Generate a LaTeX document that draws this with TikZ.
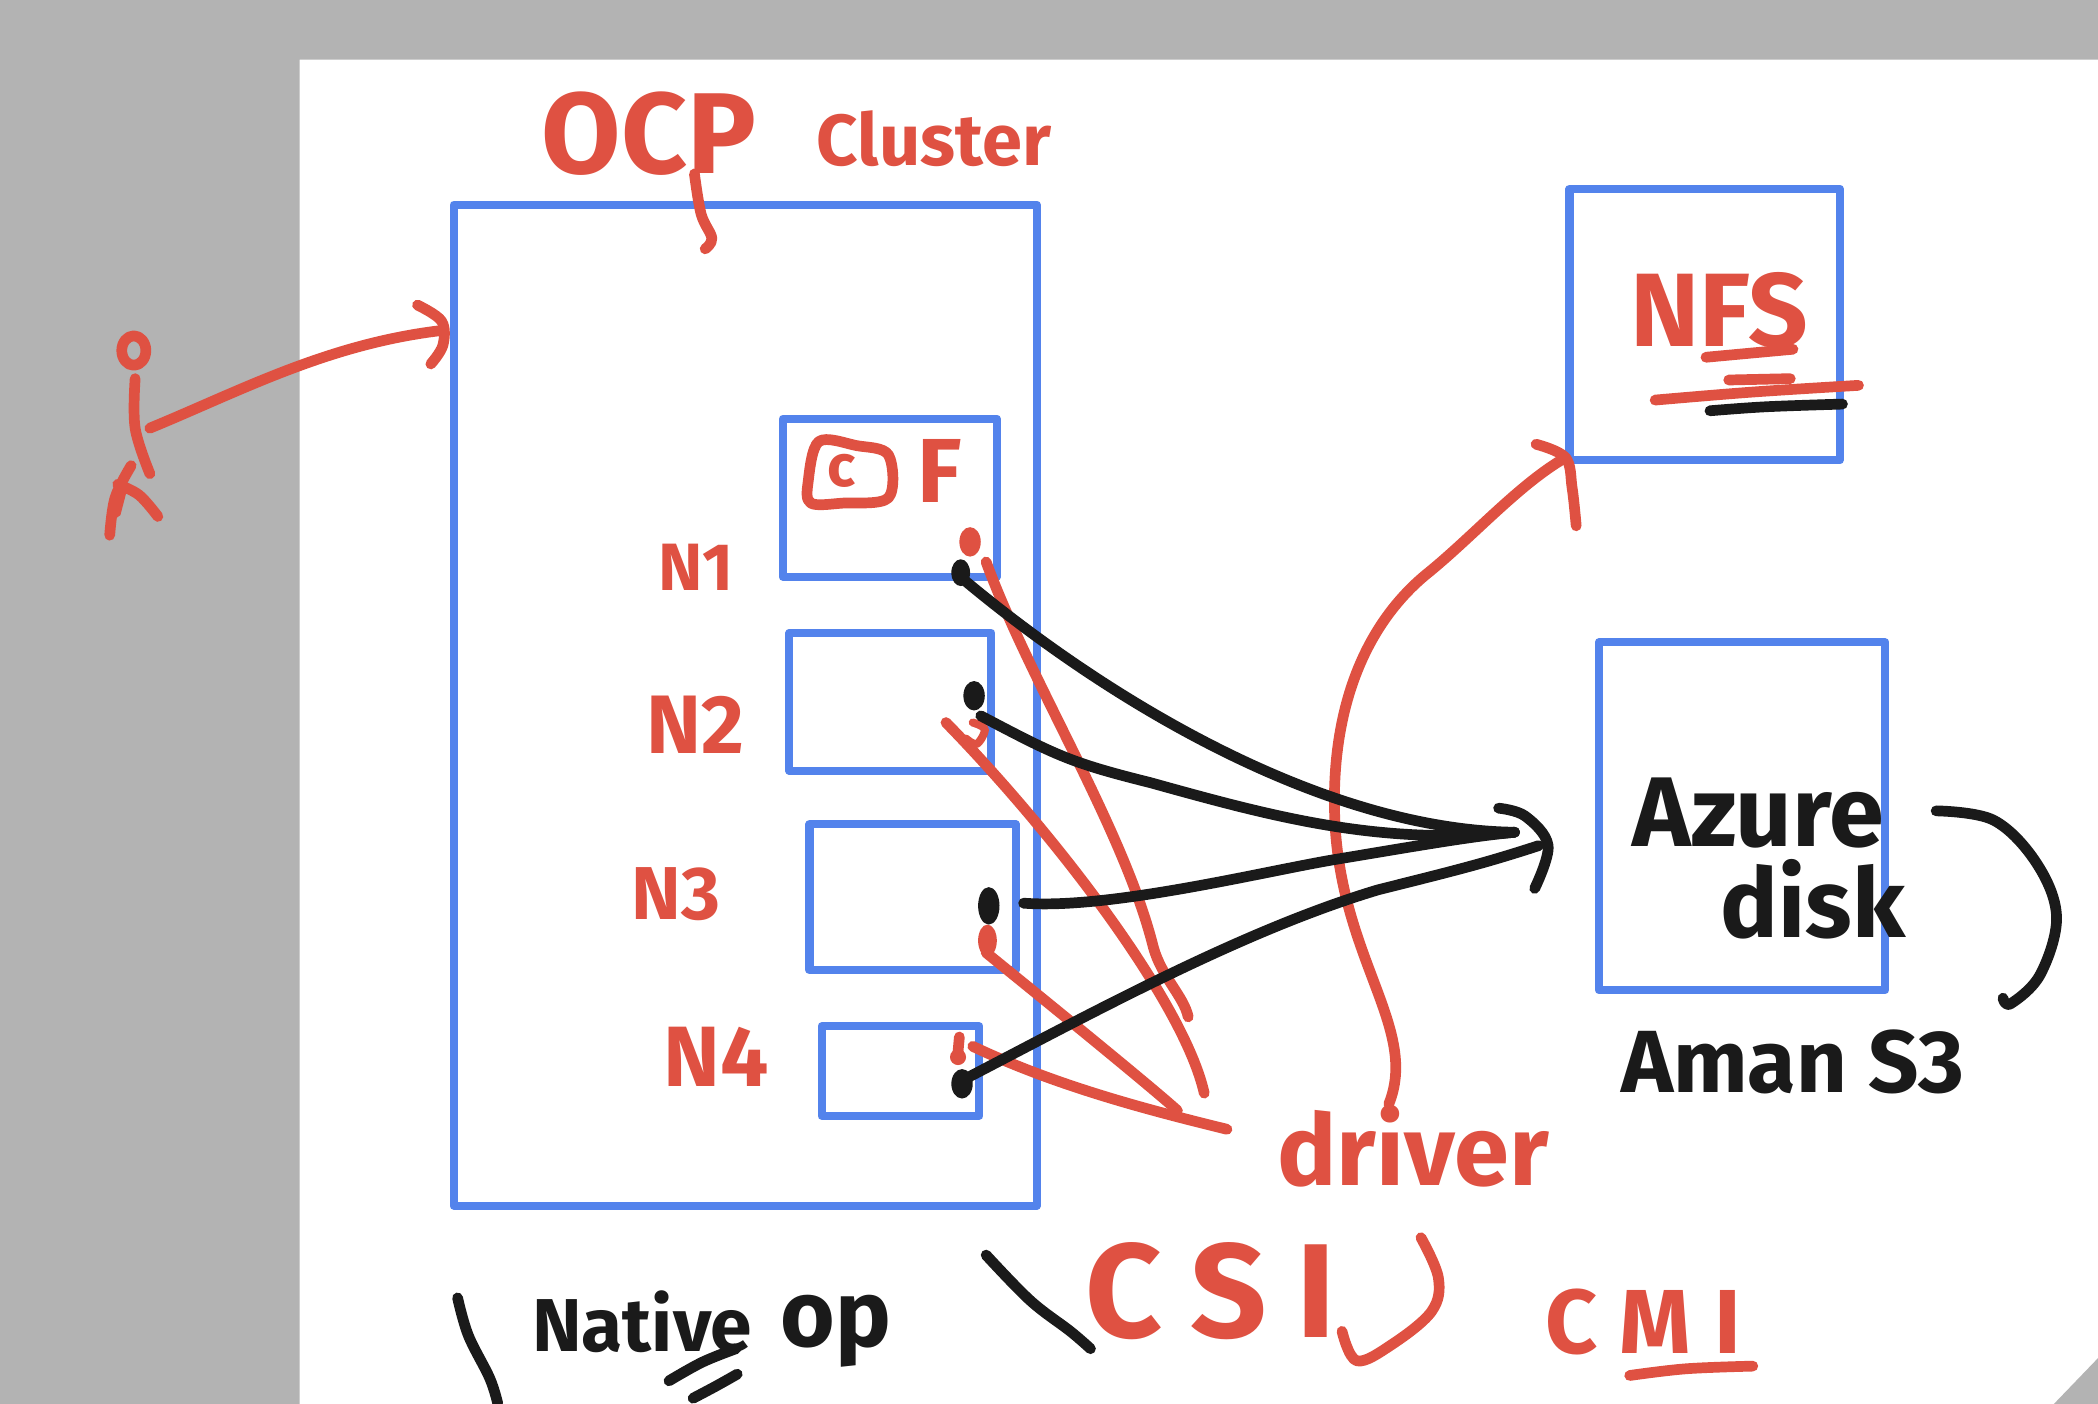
\documentclass[tikz,border=0pt]{standalone}
\usepackage{fontspec}
\setmainfont{Fira Sans}
\newfontfamily\spacedcsi[LetterSpace=22]{Fira Sans}
\newfontfamily\spacedcmi[LetterSpace=25]{Fira Sans}
\definecolor{bluebox}{HTML}{5383EC}
\definecolor{redink}{HTML}{DF5142}
\definecolor{blackink}{HTML}{1A1A1A}
\definecolor{greyband}{HTML}{B3B3B3}
\newcommand{\fsz}[1]{\fontsize{#1}{#1}\selectfont}
\tikzset{
  boxb/.style={draw=bluebox,line width=6pt,line join=round,fill=none,outer sep=0pt,inner sep=0pt,anchor=north west},
  redstroke/.style={draw=redink,line width=8pt,line cap=round,line join=round},
  blackstroke/.style={draw=blackink,line width=8pt,line cap=round,line join=round},
  redlabel/.style={text=redink,inner sep=0pt,font=\bfseries},
  blacklabel/.style={text=blackink,inner sep=0pt,font=\bfseries},
  reddot/.style={fill=redink,draw=none},
  blackdot/.style={fill=blackink,draw=none}
}
\begin{document}
\begin{tikzpicture}[x=1pt,y=-1pt]
\useasboundingbox (0,0) rectangle (1568,1049.3);
\fill[white] (0,0) rectangle (1568,1049.3);
\fill[greyband] (0,0) -- (1568,0) -- (1568,44.5) -- (224,44.5) -- (224,1049.3) -- (0,1049.3) -- cycle;
\fill[greyband] (1535,1049.3) -- (1568,1015) -- (1568,1049.3) -- cycle;

% blue boxes
\node[boxb,minimum width=436pt,minimum height=748pt] (ocp) at (339,153) {};
\node[boxb,minimum width=160pt,minimum height=118pt] (n1) at (585,313) {};
\node[boxb,minimum width=151pt,minimum height=103pt] (n2) at (590,473) {};
\node[boxb,minimum width=154pt,minimum height=109pt] (n3) at (605,616) {};
\node[boxb,minimum width=118pt,minimum height=67pt] (n4) at (614,767) {};
\node[boxb,minimum width=202pt,minimum height=203pt] (nfs) at (1173,141) {};
\node[boxb,minimum width=214pt,minimum height=260pt] (azure) at (1195,480) {};

% labels
\node[redlabel] (locp) at (485,100) {\fsz{86}OCP};
\node[redlabel] (lcluster) at (698,104) {\fsz{54}Cluster};
\node[redlabel] (ln1) at (520,424) {\fsz{50}N1};
\node[redlabel] (ln2) at (520,542) {\fsz{62}N2};
\node[redlabel] (ln3) at (505,668) {\fsz{56}N3};
\node[redlabel] (ln4) at (535,790) {\fsz{64}N4};
\node[redlabel] (lc) at (629,352) {\fsz{44}c};
\node[redlabel] (lf) at (702,352) {\fsz{68}F};
\node[redlabel] (lnfs) at (1285,232) {\fsz{78}NFS};
\node[redlabel] (ldriver) at (1056,857) {\fsz{74}driver};
\node[redlabel,font=\bfseries\spacedcsi] (lcsi) at (905,965) {\fsz{100}CSI};
\node[redlabel,font=\bfseries\spacedcmi] (lcmi) at (1228,988) {\fsz{68}CMI};
\node[blacklabel] (lazure) at (1314,608) {\fsz{74}Azure};
\node[blacklabel] (ldisk) at (1355,672) {\fsz{72}disk};
\node[blacklabel] (laman) at (1340,794) {\fsz{66}Aman S3};
\node[blacklabel] (lnative) at (480,988) {\fsz{56}Native};
\node[blacklabel] (lop) at (625,995) {\fsz{70}op};

% CSI brackets and other strokes
\draw[blackstroke] plot[smooth,tension=.6] coordinates {(342,970) (350,998) (366,1030) (372,1049)};
\draw[blackstroke] plot[smooth,tension=.6] coordinates {(737,938) (770,972) (800,995) (815,1008)};
\draw[redstroke] plot[smooth,tension=.6] coordinates {(1062,925) (1075,955) (1070,980) (1040,1005) (1014,1017) (1003,995)};

% OCP tail
\draw[redstroke] plot[smooth,tension=.6] coordinates {(519,130) (524,160) (532,178) (527,186)};

% underlines
\draw[blackstroke] plot[smooth,tension=.6] coordinates {(500,1032) (525,1018) (550,1008)};
\draw[blackstroke] plot[smooth,tension=.6] coordinates {(518,1045) (535,1036) (551,1027)};
\draw[redstroke] plot[smooth,tension=.6] coordinates {(1218,1028) (1260,1023) (1310,1021)};
\draw[redstroke] (1275,267) -- (1340,261);
\draw[redstroke] (1292,284) -- (1338,283);
\draw[redstroke] plot[smooth,tension=.6] coordinates {(1237,299) (1310,293) (1389,288)};
\draw[blackstroke] plot[smooth,tension=.6] coordinates {(1278,307) (1320,304) (1377,302)};

% c-box in N1
\draw[redstroke] plot[smooth cycle,tension=.55] coordinates {(612,330) (640,333) (664,340) (664,372) (630,376) (606,376) (604,360)};

% stick figure
\draw[redstroke] (100,262) ellipse (9pt and 11pt);
\draw[redstroke] plot[smooth,tension=.6] coordinates {(101,283) (101,320) (112,354)};
\draw[redstroke] plot[smooth,tension=.6] coordinates {(98,348) (86,372) (82,400)};
\draw[redstroke] plot[smooth,tension=.6] coordinates {(88,362) (104,370) (118,386)};
\fill[redink] (84,366) -- (96,362) -- (90,385) -- (80,392) -- cycle;

% arrow person to cluster
\coordinate (pstart) at (112,320);
\coordinate (ptip) at (330,247);
\draw[redstroke] (pstart) .. controls (180,292) and (245,257) .. (ptip);
\draw[redstroke] plot[smooth,tension=.6] coordinates {(312,228) (330,240) (331,258) (322,272)};

% driver arrow to NFS
\coordinate (dstart) at (1038,825);
\coordinate (dtip) at (1170,342);
\draw[redstroke] (dstart) .. controls (1060,770) and (1005,720) .. (998,620) .. controls (993,540) and (1015,472) .. (1065,430) .. controls (1100,402) and (1135,362) .. (dtip);
\draw[redstroke] plot[smooth,tension=.6] coordinates {(1148,332) (1170,342) (1175,365) (1178,393)};

% red connectors
\coordinate (ra1) at (737,420);
\coordinate (rb1) at (707,540);
\coordinate (rc1) at (737,712);
\coordinate (rd1) at (727,782);
\draw[redstroke] (ra1) .. controls (770,510) and (840,620) .. (862,708) .. controls (868,730) and (885,745) .. (888,760);
\draw[redstroke] (rb1) .. controls (790,625) and (885,750) .. (900,817);
\draw[redstroke] (rc1) .. controls (790,755) and (860,812) .. (880,830);
\draw[redstroke] (rd1) .. controls (790,812) and (860,830) .. (917,844);
\draw[reddot] (725,405) ellipse (8pt and 11pt);
\draw[redstroke] (716,786) -- (717,775);
\draw[reddot] (716,790) circle (6pt);
\draw[redstroke,line width=6pt] plot[smooth,tension=.6] coordinates {(727,540) (736,545) (730,556) (722,552)};
\draw[reddot] (738,703) ellipse (7pt and 12pt);

% black connectors
\coordinate (target) at (1132,622);
\draw[blackdot] (718,428) ellipse (7pt and 10pt);
\draw[blackdot] (728,520) ellipse (8pt and 11pt);
\draw[blackdot] (739,677) ellipse (8pt and 14pt);
\draw[blackdot] (719,810) ellipse (8pt and 11pt);
\draw[blackstroke] (720,433) .. controls (830,525) and (990,620) .. (target);
\draw[blackstroke] (733,535) .. controls (790,565) and (800,570) .. (860,585) .. controls (950,610) and (1030,632) .. (target);
\draw[blackstroke] (765,675) .. controls (830,680) and (950,650) .. (1000,642) .. controls (1060,632) and (1100,625) .. (target);
\draw[blackstroke] (722,806) .. controls (820,755) and (930,695) .. (1030,665) .. controls (1090,650) and (1110,645) .. (1150,632);
\draw[blackstroke] plot[smooth,tension=.6] coordinates {(1120,604) (1140,610) (1157,632) (1147,664)};

% brace to S3
\draw[blackstroke] plot[smooth,tension=.6] coordinates {(1447,606) (1490,613) (1522,645) (1537,685) (1525,728) (1503,750) (1497,746)};
\end{tikzpicture}
\end{document}
